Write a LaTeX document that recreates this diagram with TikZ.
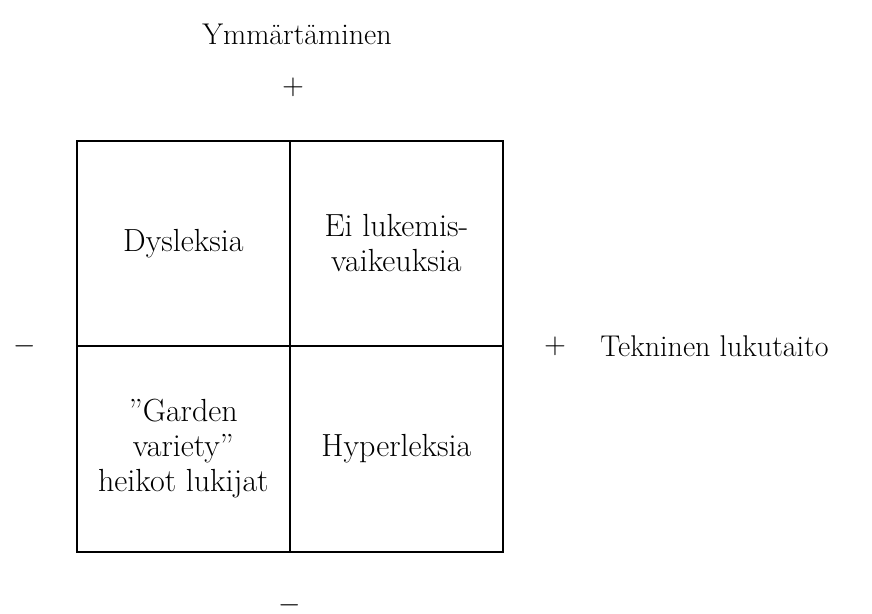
\documentclass[tikz,border=0pt]{standalone}
\begin{document}
\begin{tikzpicture}[x=0.5pt,y=-0.5pt,
  cell/.style={draw=black,line width=1pt,minimum width=106.5pt,minimum height=102.5pt,
    align=center,inner sep=0pt,font=\fontsize{16}{17.5}\selectfont},
  lbl/.style={inner sep=0pt,font=\fontsize{15}{17.5}\selectfont}]
\useasboundingbox (0,0) rectangle (872,614);
\node[cell] (tl) at (183.35,243.5) {Dysleksia};
\node[cell] (tr) at (396.35,243.5) {Ei lukemis-\\vaikeuksia};
\node[cell] (bl) at (183.35,449) {''Garden\\variety''\\heikot lukijat};
\node[cell] (br) at (396.35,449) {Hyperleksia};
\node[lbl] (ym) at (297,34) {Ymmärtäminen};
\node[lbl] (tp) at (293,87) {$+$};
\node[lbl] (bm) at (290,605) {$-$};
\node[lbl] (lm) at (25,346) {$-$};
\node[lbl] (rp) at (555,346) {$+$};
\node[lbl,anchor=west] (tek) at (600,346) {Tekninen lukutaito};
\end{tikzpicture}
\end{document}
